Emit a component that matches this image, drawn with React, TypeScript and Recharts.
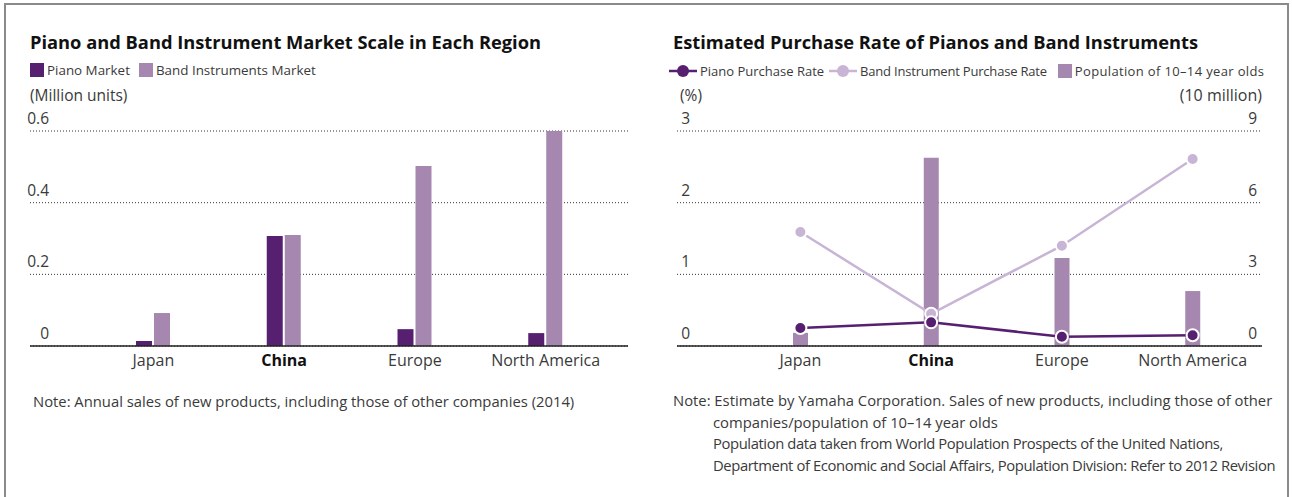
import { BarChart, Bar, ComposedChart, Line, XAxis, YAxis, CartesianGrid } from 'recharts';

// regions shared by both panels
const categories = ['Japan', 'China', 'Europe', 'North America'];

// left panel: market scale (million units)
const pianoMarket = [0.014, 0.307, 0.047, 0.036];
const bandMarket = [0.092, 0.31, 0.502, 0.6];
const marketTicks = [0, 0.2, 0.4, 0.6];

// right panel: purchase rate (%) and population (10 million)
const pianoRate = [0.25, 0.33, 0.13, 0.15];
const bandRate = [1.59, 0.45, 1.4, 2.61];
const population = [0.55, 7.88, 3.68, 2.3];
const rateTicks = [0, 1, 2, 3];
const populationTicks = [0, 3, 6, 9];

const FONT = '"Open Sans", sans-serif';
const DARK = '#561f70';
const MID = '#a687b0';
const LIGHT = '#c8b4d4';
const TEXT = '#3a3a3a';

const marketData = categories.map((name, i) => ({
  name,
  piano: pianoMarket[i],
  band: bandMarket[i],
}));

const rateData = categories.map((name, i) => ({
  name,
  pianoRate: pianoRate[i],
  bandRate: bandRate[i],
  population: population[i],
}));

function CategoryTick({ x, y, payload }: any) {
  const bold = payload.value === 'China';
  return (
    <text
      x={x}
      y={y + 20}
      textAnchor="middle"
      fontFamily={FONT}
      fontSize={16}
      fontWeight={bold ? 700 : 400}
      fill={bold ? '#111' : TEXT}
    >
      {payload.value}
    </text>
  );
}

function ValueTick({ y, payload, textX }: any) {
  return (
    <text x={textX} y={y - 7} textAnchor="end" fontFamily={FONT} fontSize={15.5} fill={TEXT}>
      {payload.value}
    </text>
  );
}

function LineIcon({ color }: { color: string }) {
  return (
    <svg width={28} height={14} style={{ verticalAlign: 'middle', marginRight: 3 }}>
      <line x1={0} y1={7} x2={28} y2={7} stroke={color} strokeWidth={2.5} />
      <circle cx={14} cy={7} r={6} fill={color} />
    </svg>
  );
}

function Square({ color }: { color: string }) {
  return (
    <span
      style={{
        display: 'inline-block',
        width: 14,
        height: 14,
        background: color,
        verticalAlign: 'middle',
        marginRight: 3,
      }}
    />
  );
}

const abs = (left: number, top: number, extra: any = {}) => ({
  position: 'absolute' as const,
  left,
  top,
  whiteSpace: 'nowrap' as const,
  ...extra,
});

export default function App() {
  return (
    <div
      style={{
        position: 'absolute',
        left: 0,
        top: 0,
        width: 1292,
        height: 497,
        overflow: 'hidden',
        background: '#fff',
        fontFamily: FONT,
        color: TEXT,
      }}
    >
      <div
        style={{
          position: 'absolute',
          left: 4,
          top: 3,
          width: 1281,
          height: 540,
          borderTop: '2px solid #8a8a8a',
          borderLeft: '2px solid #8a8a8a',
          borderRight: '2px solid #8a8a8a',
        }}
      />

      {/* left panel */}
      <div style={abs(30, 29, { fontSize: 18.3, fontWeight: 700, color: '#111' })}>
        Piano and Band Instrument Market Scale in Each Region
      </div>
      <div style={abs(30, 59, { fontSize: 13.4, lineHeight: '20px' })}>
        <Square color={DARK} />
        <span style={{ verticalAlign: 'middle', marginRight: 9 }}>Piano Market</span>
        <Square color={MID} />
        <span style={{ verticalAlign: 'middle' }}>Band Instruments Market</span>
      </div>
      <div style={abs(30, 84, { fontSize: 15.5 })}>(Million units)</div>

      <div style={abs(0, 0)}>
        <BarChart
          width={640}
          height={380}
          data={marketData}
          margin={{ top: 131, right: 12, bottom: 4, left: 29 }}
          barSize={16}
          barGap={2}
        >
          <CartesianGrid vertical={false} stroke="#333" strokeDasharray="1 2" />
          <XAxis
            dataKey="name"
            height={30}
            tickSize={0}
            tickMargin={0}
            axisLine={{ stroke: '#222', strokeWidth: 1.5 }}
            tick={<CategoryTick />}
            padding={{ left: 58, right: 17 }}
            interval={0}
          />
          <YAxis
            width={1}
            domain={[0, 0.6]}
            ticks={marketTicks}
            axisLine={false}
            tickLine={false}
            tick={<ValueTick textX={49} />}
            interval={0}
          />
          <Bar dataKey="piano" fill={DARK} isAnimationActive={false} />
          <Bar dataKey="band" fill={MID} isAnimationActive={false} />
        </BarChart>
      </div>

      <div style={abs(33, 391, { fontSize: 14.8 })}>
        Note: Annual sales of new products, including those of other companies (2014)
      </div>

      {/* right panel */}
      <div style={abs(673, 29, { fontSize: 18.3, fontWeight: 700, color: '#111' })}>
        Estimated Purchase Rate of Pianos and Band Instruments
      </div>
      <div style={abs(669, 59, { fontSize: 13, lineHeight: '20px' })}>
        <LineIcon color={DARK} />
        <span style={{ verticalAlign: 'middle', marginRight: 5 }}>Piano Purchase Rate</span>
        <LineIcon color={LIGHT} />
        <span style={{ verticalAlign: 'middle', marginRight: 11, letterSpacing: -0.2 }}>
          Band Instrument Purchase Rate
        </span>
        <Square color={MID} />
        <span style={{ verticalAlign: 'middle', letterSpacing: 0.35 }}>Population of 10–14 year olds</span>
      </div>
      <div style={abs(680, 84, { fontSize: 15.5 })}>(%)</div>
      <div style={abs(1142, 84, { fontSize: 16, width: 120, textAlign: 'right' })}>(10 million)</div>

      <div style={abs(640, 0)}>
        <ComposedChart
          width={652}
          height={380}
          data={rateData}
          margin={{ top: 131, right: 29, bottom: 4, left: 36 }}
        >
          <CartesianGrid vertical={false} yAxisId="left" stroke="#333" strokeDasharray="1 2" />
          <XAxis
            dataKey="name"
            height={30}
            tickSize={0}
            tickMargin={0}
            axisLine={{ stroke: '#222', strokeWidth: 1.5 }}
            tick={<CategoryTick />}
            padding={{ left: 58, right: 4 }}
            interval={0}
          />
          <YAxis
            yAxisId="left"
            width={1}
            domain={[0, 3]}
            ticks={rateTicks}
            axisLine={false}
            tickLine={false}
            tick={<ValueTick textX={50} />}
            interval={0}
          />
          <YAxis
            yAxisId="right"
            orientation="right"
            width={1}
            domain={[0, 9]}
            ticks={populationTicks}
            axisLine={false}
            tickLine={false}
            tick={<ValueTick textX={617} />}
            interval={0}
          />
          <Bar yAxisId="right" dataKey="population" fill={MID} barSize={15} isAnimationActive={false} />
          <Line
            yAxisId="left"
            dataKey="bandRate"
            stroke={LIGHT}
            strokeWidth={2.5}
            dot={{ r: 6, fill: LIGHT, stroke: '#fff', strokeWidth: 2 }}
            isAnimationActive={false}
          />
          <Line
            yAxisId="left"
            dataKey="pianoRate"
            stroke={DARK}
            strokeWidth={2.5}
            dot={{ r: 6, fill: DARK, stroke: '#fff', strokeWidth: 2 }}
            isAnimationActive={false}
          />
        </ComposedChart>
      </div>

      <div style={abs(673, 390, { fontSize: 14.8, lineHeight: '21.5px' })}>
        <div>Note: Estimate by Yamaha Corporation. Sales of new products, including those of other</div>
        <div style={{ paddingLeft: 40 }}>companies/population of 10–14 year olds</div>
        <div style={{ paddingLeft: 40, letterSpacing: -0.4 }}>
          Population data taken from World Population Prospects of the United Nations,
        </div>
        <div style={{ paddingLeft: 40, letterSpacing: -0.4 }}>
          Department of Economic and Social Affairs, Population Division: Refer to 2012 Revision
        </div>
      </div>
    </div>
  );
}
